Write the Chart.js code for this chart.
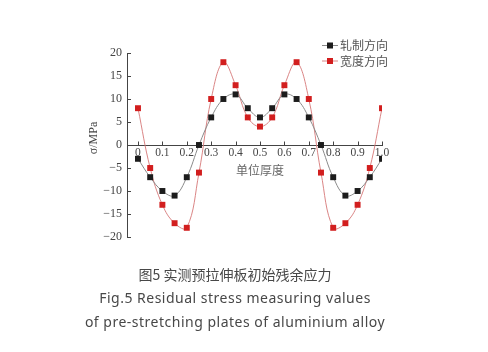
<!DOCTYPE html>
<html><head><meta charset="utf-8">
<script src="https://cdn.jsdelivr.net/npm/chart.js@4/dist/chart.umd.min.js"></script>
<style>
html,body{margin:0;padding:0;background:#fff;}
#wrap{position:relative;width:488px;height:352px;overflow:hidden;}
canvas{position:absolute;left:0;top:0;}
.cap{position:absolute;left:0;width:470px;text-align:center;color:#484848;white-space:nowrap;line-height:20px;}
</style></head><body>
<div id="wrap">
<canvas id="c" width="488" height="352"></canvas>
<div class="cap" style="top:264px;font-family:'Noto Sans CJK SC';font-size:14px;">图5 实测预拉伸板初始残余应力</div>
<div class="cap" style="top:288px;font-family:'Noto Sans';font-size:14px;letter-spacing:0.5px;">Fig.5 Residual stress measuring values</div>
<div class="cap" style="top:312px;font-family:'Noto Sans';font-size:14px;letter-spacing:0.5px;">of pre-stretching plates of aluminium alloy</div>
</div>
<script>
const xValues = [0,0.05,0.1,0.15,0.2,0.25,0.3,0.35,0.4,0.45,0.5,0.55,0.6,0.65,0.7,0.75,0.8,0.85,0.9,0.95,1.0];
const rollingDir = [-3,-7,-10,-11,-7,0,6,10,11,8,6,8,11,10,6,0,-7,-11,-10,-7,-3];
const widthDir = [8,-5,-13,-17,-18,-6,10,18,13,6,4,6,13,18,10,-6,-18,-17,-13,-5,8];
const seriesNames = ['轧制方向','宽度方向'];
const xTicks = [0,0.1,0.2,0.3,0.4,0.5,0.6,0.7,0.8,0.9,1.0];
const yTicks = [-20,-15,-10,-5,0,5,10,15,20];
const xTitle = '单位厚度';
const yTitle = 'σ/MPa';

const toPts = arr => arr.map((v,i)=>({x:xValues[i], y:v}));

const decor = {
  id:'decor',
  afterDraw(chart){
    const ctx = chart.ctx, xs = chart.scales.x, ys = chart.scales.y;
    const a = chart.chartArea;
    ctx.save();
    ctx.strokeStyle = '#444'; ctx.lineWidth = 1;
    yTicks.forEach(v=>{
      const py = Math.round(ys.getPixelForValue(v))+0.5;
      ctx.beginPath(); ctx.moveTo(a.left, py); ctx.lineTo(a.left+4, py); ctx.stroke();
    });
    const y0 = Math.round(ys.getPixelForValue(0))+0.5;
    xTicks.forEach(v=>{
      const px = Math.round(xs.getPixelForValue(v))+0.5;
      ctx.beginPath(); ctx.moveTo(px, y0); ctx.lineTo(px, y0-4); ctx.stroke();
    });
    ctx.fillStyle = '#666';
    ctx.font = "12px 'Noto Sans CJK SC'";
    ctx.textAlign = 'center'; ctx.textBaseline = 'middle';
    ctx.fillText(xTitle, 260, 170);
    ctx.save();
    ctx.translate(94, 138); ctx.rotate(-Math.PI/2);
    ctx.fillStyle = '#444';
    ctx.font = "12px 'Liberation Serif'";
    ctx.fillText(yTitle, 0, 0);
    ctx.restore();
    chart.data.datasets.forEach((ds,i)=>{
      const ly = 45 + i*15.5;
      ctx.strokeStyle = ds.borderColor; ctx.lineWidth = 1;
      ctx.beginPath(); ctx.moveTo(322, ly+0.5); ctx.lineTo(338, ly+0.5); ctx.stroke();
      ctx.fillStyle = ds.pointBackgroundColor;
      ctx.fillRect(327, ly-2.5, 6, 6);
      ctx.fillStyle = '#555';
      ctx.font = "12px 'Noto Sans CJK SC'";
      ctx.textAlign = 'left'; ctx.textBaseline = 'middle';
      ctx.fillText(ds.label, 340, ly+0.5);
    });
    ctx.restore();
  }
};

new Chart(document.getElementById('c'), {
  type:'line',
  data:{datasets:[
    {label:seriesNames[0], data:toPts(rollingDir), borderColor:'#8a8a8a', borderWidth:1,
     pointStyle:'rect', pointRadius:4.2, pointBackgroundColor:'#1c1c1c', pointBorderColor:'#1c1c1c', pointBorderWidth:0,
     tension:0.4, fill:false},
    {label:seriesNames[1], data:toPts(widthDir), borderColor:'rgba(214,120,120,0.9)', borderWidth:1,
     pointStyle:'rect', pointRadius:4.2, pointBackgroundColor:'#d21e1e', pointBorderColor:'#d21e1e', pointBorderWidth:0,
     tension:0.4, fill:false}
  ]},
  options:{
    responsive:false, animation:false, devicePixelRatio:1,
    layout:{padding:{left:0, right:106, top:53, bottom:115}},
    plugins:{legend:{display:false}, tooltip:{enabled:false}},
    scales:{
      x:{type:'linear', position:{y:0}, min:-0.045, max:1.0,
         afterBuildTicks(s){ s.ticks = xTicks.map(v=>({value:v})); },
         afterFit(s){ s.height = 0; },
         grid:{display:true, drawOnChartArea:false, drawTicks:false},
         border:{display:true, color:'#444', width:1},
         ticks:{padding:1, color:'#444', font:{family:'Liberation Serif', size:11.5},
           maxRotation:0, autoSkip:false,
           callback:v=> v===0 ? '0' : Number(v).toFixed(1)}
      },
      y:{type:'linear', position:'left', min:-20, max:20,
         afterBuildTicks(s){ s.ticks = yTicks.map(v=>({value:v})); },
         afterFit(s){ s.width = 127; },
         grid:{display:true, drawOnChartArea:false, drawTicks:false},
         border:{display:true, color:'#444', width:1},
         ticks:{padding:5, color:'#444', font:{family:'Liberation Serif', size:12},
           callback:v=> v<0 ? '\u2212'+Math.abs(v) : String(v)}
      }
    }
  },
  plugins:[decor]
});
</script>
</body></html>
